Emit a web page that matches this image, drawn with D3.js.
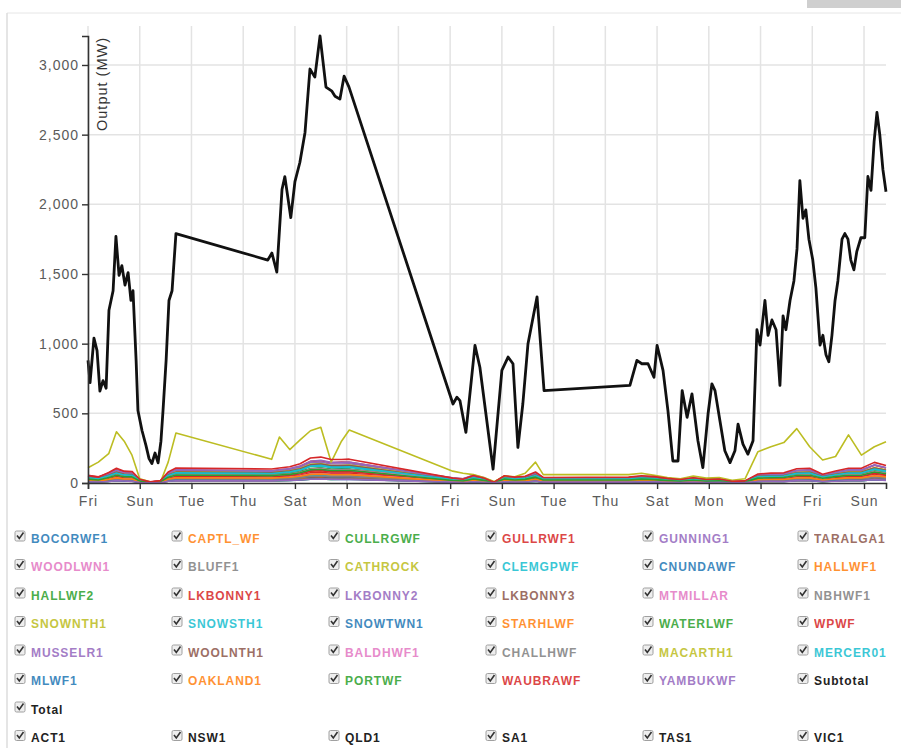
<!DOCTYPE html>
<html><head><meta charset="utf-8">
<script src="https://cdn.jsdelivr.net/npm/d3@7"></script>
<style>
body{margin:0;background:#fff;}
svg text{font-family:"Liberation Sans",Arial,Helvetica,sans-serif;}
</style></head><body>
<svg id="c" width="901" height="748"></svg>
<script>
// ---------- data ----------
const startDate = Date.UTC(2013, 2, 1); // a Friday
const DAY = 864e5;

const totalDays = [0,0.08,0.23,0.35,0.46,0.58,0.70,0.81,0.97,1.08,1.20,1.31,1.43,1.55,1.66,1.74,1.86,1.93,2.09,2.24,2.36,2.47,2.59,2.71,2.82,2.90,3.02,3.13,3.25,3.40,
 6.95,7.11,7.30,7.50,7.61,7.84,8.00,8.19,8.39,8.58,8.77,8.97,9.20,9.43,9.55,9.74,9.90,10.09,
 14.11,14.26,14.38,14.61,14.96,15.15,15.66,16.00,16.24,16.43,16.62,16.81,17.01,17.36,17.63,
 20.95,21.22,21.41,21.65,21.88,22.00,22.23,22.42,22.61,22.81,22.97,23.16,23.35,23.58,23.77,23.97,24.12,24.24,24.43,24.62,24.82,25.01,25.13,25.32,25.51,25.71,
 25.86,25.98,26.17,26.29,26.44,26.60,26.75,26.87,26.98,27.14,27.29,27.41,27.52,27.64,27.75,27.87,28.02,28.14,28.30,28.41,28.53,28.64,28.76,28.88,28.99,
 29.15,29.26,29.38,29.49,29.61,29.72,29.88,30.03,30.15,30.27,30.39,30.50,30.61,30.73,30.85];
const totalValues = [880,720,1040,950,660,735,680,1240,1380,1770,1490,1560,1420,1510,1310,1380,880,520,375,270,175,140,215,145,300,520,880,1310,1380,1790,
 1600,1650,1514,2106,2199,1904,2163,2300,2516,2971,2913,3208,2841,2812,2776,2755,2920,2841,
 567,615,591,363,988,831,99,808,904,856,255,567,1000,1336,663,
 700,880,856,856,759,988,808,519,158,158,663,471,640,303,110,495,712,663,447,231,146,231,423,279,207,303,
 1100,990,1310,1060,1170,1100,700,1200,1100,1310,1450,1680,2170,1900,1960,1750,1600,1400,990,1060,920,870,1060,1310,1450,
 1750,1790,1750,1600,1530,1660,1760,1760,2200,2100,2450,2660,2500,2250,2090];

const seriesDays = [0,0.4,0.8,1.1,1.4,1.7,2.0,2.4,2.8,3.1,3.4,
 7.1,7.4,7.8,8.2,8.6,9.0,9.4,9.8,10.1,
 14.1,14.5,14.9,15.3,15.7,16.1,16.5,16.9,17.3,17.6,
 20.9,21.4,21.9,22.4,22.9,23.4,23.9,24.4,24.9,25.4,25.9,26.4,26.9,27.4,27.9,28.4,28.9,29.4,29.9,30.4,30.85];

const BOCORWF1 = [35,25,48,60,52,45,18,5,8,40,66, 55,65,70,80,100,108,96,102,98, 20,18,30,25,4,30,24,28,46,25, 25,30,28,20,15,22,14,18,7,9,38,42,44,58,62,38,50,60,64,85,74];
const CAPTL_WF = [50,40,62,80,70,58,20,6,12,55,85, 72,80,86,100,128,135,120,125,122, 30,22,45,30,5,40,32,38,60,30, 30,40,34,25,18,30,20,22,8,12,48,52,55,75,78,45,62,78,80,108,92];
const CULLRGWF = [10,8,12,17,14,13,4,1,3,12,17, 16,17,19,22,28,29,26,27,27, 6,4,8,6,1,8,7,8,12,6, 7,8,7,5,4,6,4,5,2,3,10,11,12,16,17,10,14,17,17,23,20];
const GULLRWF1 = [55,45,70,95,80,72,25,6,15,68,95, 85,95,100,120,155,160,145,150,148, 35,30,50,35,6,48,38,42,70,36, 38,45,42,30,22,35,22,26,10,14,55,62,64,88,92,55,75,92,92,128,108];
const GUNNING1 = [14,11,18,25,20,19,6,2,4,18,26, 24,26,28,33,43,45,40,41,41, 8,6,13,9,1,12,10,12,19,10, 10,12,11,8,6,9,6,7,3,4,16,17,17,24,25,15,21,25,25,35,30];
const TARALGA1 = [30,25,42,58,48,46,15,4,10,44,60, 56,60,66,78,100,104,95,95,96, 19,15,30,20,3,29,24,27,44,23, 24,29,26,18,14,21,14,16,6,9,36,40,41,57,59,35,48,59,59,82,70];
const WOODLWN1 = [13,11,19,26,21,21,7,2,4,20,27, 25,27,29,35,45,47,42,42,43, 9,7,13,9,1,13,11,12,20,10, 11,13,12,8,6,10,6,7,3,4,16,18,18,25,26,16,22,26,26,37,31];
const BLUFF1 = [18,15,24,30,26,22,8,2,4,20,30, 25,28,32,40,50,52,48,46,47, 14,12,20,15,3,18,14,16,25,14, 16,20,18,12,10,15,10,12,5,6,20,22,22,30,30,18,25,30,30,42,36];
const CATHROCK = [22,18,28,38,30,28,10,3,6,26,38, 32,36,40,48,60,62,58,56,58, 16,12,24,16,3,22,18,20,32,16, 18,22,20,14,10,16,10,12,5,6,26,28,28,38,40,24,32,40,40,55,48];
const CLEMGPWF = [20,16,26,34,28,26,8,2,5,24,34, 30,32,36,42,54,56,50,50,51, 14,10,20,14,2,18,14,16,26,14, 16,18,16,12,8,14,9,10,4,5,22,24,24,32,34,20,28,34,34,46,40];
const CNUNDAWF = [15,12,20,26,22,20,7,2,4,18,27, 24,26,28,34,43,44,40,40,41, 10,8,14,10,2,14,11,12,20,10, 11,13,12,9,6,10,7,8,3,4,16,18,18,25,26,15,21,26,26,36,30];
const HALLWF1 = [30,24,38,52,42,40,13,4,8,38,52, 48,52,56,66,86,90,82,82,83, 22,18,30,20,4,28,22,26,40,22, 24,28,25,18,14,20,13,15,6,8,32,35,36,50,52,31,42,52,52,72,62];
const HALLWF2 = [22,18,28,38,30,30,10,3,6,28,38, 36,39,42,50,65,68,62,62,63, 16,13,22,15,3,21,17,19,30,16, 17,21,18,13,10,15,10,11,4,6,24,26,27,37,39,23,32,39,39,54,46];
const LKBONNY1 = [25,20,32,44,36,34,11,3,7,32,44, 40,44,48,56,73,76,70,70,70, 18,16,28,20,3,24,20,22,34,18, 20,24,21,15,11,17,11,13,5,7,27,30,30,42,44,26,36,44,44,61,52];
const LKBONNY2 = [45,35,58,82,66,64,20,6,13,62,85, 80,86,94,112,145,150,136,136,138, 38,30,58,40,6,50,40,45,70,38, 40,48,44,32,24,36,24,28,10,14,58,64,66,90,94,56,76,94,94,130,110];
const LKBONNY3 = [11,9,15,21,17,17,5,2,4,16,22, 20,22,24,28,36,38,34,34,35, 8,7,12,8,1,11,9,10,16,9, 9,11,10,7,5,8,5,6,2,3,13,14,15,20,21,13,17,21,21,30,25];
const MTMILLAR = [22,18,28,38,30,30,10,3,6,28,38, 35,38,42,50,64,66,60,60,61, 20,16,26,18,3,22,18,20,30,16, 17,20,18,13,10,15,10,11,4,6,24,26,27,37,38,23,31,38,38,53,45];
const NBHWF1 = [40,32,50,70,56,55,18,5,11,52,72, 68,73,80,94,122,127,115,115,117, 28,24,42,28,5,38,30,35,55,30, 32,38,34,24,18,28,18,20,8,11,45,50,50,70,72,44,60,72,72,100,86];
const SNOWNTH1 = [42,34,56,78,62,62,20,6,12,58,80, 74,80,88,104,135,140,126,126,128, 30,24,45,30,5,42,34,38,60,32, 34,40,36,26,20,30,20,22,9,12,50,54,55,76,80,48,65,80,80,110,94];
const SNOWSTH1 = [38,30,50,70,56,55,18,5,11,52,70, 66,70,77,90,118,122,110,110,112, 26,20,38,26,4,36,29,32,52,28, 30,35,32,22,17,26,17,19,8,10,44,48,48,67,70,42,57,70,70,97,82];
const SNOWTWN1 = [30,24,40,54,44,43,14,4,9,40,55, 52,55,60,71,92,96,87,87,88, 20,16,30,20,3,28,23,26,41,22, 23,27,24,17,13,20,13,15,6,8,34,37,38,52,54,33,45,54,54,76,64];
const STARHLWF = [10,8,13,18,14,14,5,1,3,13,18, 17,18,20,24,31,32,29,29,29, 7,5,10,7,1,9,7,8,14,7, 7,9,8,6,4,7,4,5,2,3,11,12,13,17,18,11,15,18,18,25,21];
const WATERLWF = [32,26,44,60,48,48,16,4,10,44,62, 58,62,68,80,103,108,98,98,99, 22,18,32,22,4,30,25,28,46,24, 25,30,27,19,15,22,30,24,7,9,38,41,42,59,61,37,50,61,61,85,72];
const WPWF = [28,22,36,50,40,40,13,4,8,38,51, 48,51,56,66,85,88,80,80,81, 20,16,28,20,3,26,21,24,38,20, 30,36,32,22,12,18,12,14,6,8,31,34,35,48,50,30,41,50,50,70,59];
const MUSSELR1 = [50,40,66,92,74,72,24,7,15,70,95, 88,95,103,121,156,163,148,148,150, 30,24,47,32,5,45,37,42,69,35, 37,45,40,29,22,34,22,25,10,13,57,62,64,89,92,55,76,92,92,129,109];
const WOOLNTH1 = [40,32,55,77,62,60,20,6,13,57,78, 73,78,85,101,130,136,123,123,125, 25,20,39,27,4,38,31,35,57,29, 31,38,34,24,18,28,18,21,8,11,48,52,53,74,77,46,63,77,77,108,91];
const BALDHWF1 = [30,24,41,58,47,46,15,4,10,43,59, 55,59,65,76,99,103,93,93,94, 24,20,34,22,4,30,25,28,45,24, 23,29,25,18,14,21,14,16,6,8,36,39,40,56,58,35,48,58,58,82,69];
const CHALLHWF = [14,11,20,29,23,22,7,2,5,21,29, 27,29,32,37,48,50,46,46,46, 9,7,15,10,2,14,11,13,21,11, 11,14,12,9,7,10,7,8,3,4,18,19,20,28,29,17,23,29,29,40,34];
const MACARTH1 = [110,150,210,368,300,200,30,8,5,150,359, 170,330,240,310,375,400,150,300,380, 85,70,60,40,10,50,45,70,150,60, 60,70,55,40,30,50,35,40,20,30,225,260,290,390,260,165,190,345,200,260,296];
const MERCER01 = [38,30,52,72,58,56,18,5,12,54,73, 68,73,80,94,122,127,115,115,117, 24,18,37,25,4,35,29,33,54,28, 29,35,31,22,17,26,17,20,8,10,45,48,50,69,72,43,59,72,72,101,85];
const MLWF1 = [8,7,12,16,13,13,4,1,3,12,17, 16,17,18,22,28,29,26,26,27, 5,4,8,6,1,8,7,8,12,6, 7,8,7,5,4,6,4,5,2,2,10,11,11,16,17,10,14,17,17,23,20];
const OAKLAND1 = [18,15,26,37,29,29,9,3,6,27,38, 35,38,41,48,62,65,59,59,60, 12,9,19,13,2,18,15,17,27,14, 15,18,16,11,9,13,9,10,4,5,23,25,25,36,37,22,30,37,37,52,44];
const PORTWF = [28,22,40,56,45,44,14,4,9,42,57, 53,57,62,73,95,99,90,90,91, 18,14,29,19,3,28,22,26,42,21, 22,28,24,17,13,20,13,15,6,8,35,38,39,54,56,34,46,56,56,79,66];
const WAUBRAWF = [52,42,75,106,85,83,27,8,17,79,108, 100,108,117,138,179,186,169,169,171, 35,27,54,36,6,52,42,48,79,40, 42,52,46,33,25,38,25,29,12,15,65,71,73,102,106,63,86,106,106,148,125];
const YAMBUKWF = [9,7,11,17,14,12,4,1,2,13,16, 15,18,19,21,27,28,27,25,26, 6,4,9,5,1,9,6,7,13,6, 6,9,8,5,3,7,4,5,1,3,11,12,10,17,16,11,13,18,16,24,19];

const seriesNames = ["BOCORWF1","CAPTL_WF","CULLRGWF","GULLRWF1","GUNNING1","TARALGA1",
 "WOODLWN1","BLUFF1","CATHROCK","CLEMGPWF","CNUNDAWF","HALLWF1",
 "HALLWF2","LKBONNY1","LKBONNY2","LKBONNY3","MTMILLAR","NBHWF1",
 "SNOWNTH1","SNOWSTH1","SNOWTWN1","STARHLWF","WATERLWF","WPWF",
 "MUSSELR1","WOOLNTH1","BALDHWF1","CHALLHWF","MACARTH1","MERCER01",
 "MLWF1","OAKLAND1","PORTWF","WAUBRAWF","YAMBUKWF"];
const seriesValues = [BOCORWF1,CAPTL_WF,CULLRGWF,GULLRWF1,GUNNING1,TARALGA1,
 WOODLWN1,BLUFF1,CATHROCK,CLEMGPWF,CNUNDAWF,HALLWF1,
 HALLWF2,LKBONNY1,LKBONNY2,LKBONNY3,MTMILLAR,NBHWF1,
 SNOWNTH1,SNOWSTH1,SNOWTWN1,STARHLWF,WATERLWF,WPWF,
 MUSSELR1,WOOLNTH1,BALDHWF1,CHALLHWF,MACARTH1,MERCER01,
 MLWF1,OAKLAND1,PORTWF,WAUBRAWF,YAMBUKWF];
const stateNames = ["ACT1","NSW1","QLD1","SA1","TAS1","VIC1"];
const yTicks = [0,500,1000,1500,2000,2500,3000];
const xTickCount = 16; // every second day

// ---------- drawing ----------
const svg = d3.select("#c");
const colors = d3.schemeCategory10;
const endDays = totalDays[totalDays.length-1];
const x = d3.scaleUtc().domain([new Date(startDate), new Date(startDate + endDays*DAY)]).range([88, 886]);
const y = d3.scaleLinear().domain([0, d3.max(totalValues)]).range([483, 36]);
const toDate = d => new Date(startDate + d*DAY);
const xTickVals = d3.range(xTickCount).map(k => toDate(2*k));

// panel frame
svg.append("line").attr("x1",7).attr("x2",901).attr("y1",13).attr("y2",13).attr("stroke","#e6e6e6");
svg.append("line").attr("x1",7).attr("x2",7).attr("y1",13).attr("y2",748).attr("stroke","#dcdcdc").attr("stroke-width",1.5);
svg.append("rect").attr("x",807).attr("y",0).attr("width",94).attr("height",8).attr("fill","#cfcfcf");

// grid
const grid = svg.append("g");
grid.selectAll(".vg").data(xTickVals).join("line")
  .attr("x1",d=>x(d)).attr("x2",d=>x(d)).attr("y1",26).attr("y2",483)
  .attr("stroke","#e3e3e3").attr("stroke-width",1.5);
grid.selectAll(".hg").data(yTicks.slice(1)).join("line")
  .attr("x1",88).attr("x2",886).attr("y1",d=>y(d)).attr("y2",d=>y(d))
  .attr("stroke","#e3e3e3").attr("stroke-width",1.5);

// series
const line = d3.line().x(d=>x(d[0])).y(d=>y(d[1]));
const sg = svg.append("g").attr("fill","none").attr("stroke-width",1.6).attr("stroke-linejoin","round");
seriesValues.forEach((vals,i)=>{
  sg.append("path").datum(vals.map((v,j)=>[toDate(seriesDays[j]),v]))
    .attr("d",line).attr("stroke",colors[i%10]);
});
svg.append("path").datum(totalValues.map((v,j)=>[toDate(totalDays[j]),v]))
  .attr("d",line).attr("fill","none").attr("stroke","#111").attr("stroke-width",2.8).attr("stroke-linejoin","round");

// axes
const xAxis = svg.append("g").attr("transform","translate(0,483)")
  .call(d3.axisBottom(x).tickValues(xTickVals).tickFormat(d3.utcFormat("%a")).tickPadding(7));
const yAxis = svg.append("g").attr("transform","translate(88,0)")
  .call(d3.axisLeft(y).tickValues(yTicks).tickFormat(d3.format(",")));
[xAxis,yAxis].forEach(a=>{
  a.select(".domain").attr("stroke","#333").attr("stroke-width",1.6);
  a.selectAll(".tick line").attr("stroke","#333").attr("stroke-width",1.4);
  a.selectAll("text").attr("fill","#5a5a5a").style("font-size","14px").style("letter-spacing","1px");
});
svg.append("text").attr("transform","translate(107,37) rotate(-90)").attr("text-anchor","end")
  .attr("fill","#333").style("font-size","14.5px").style("letter-spacing","1px").text("Output (MW)");

// legend
const colX = [15,172,329,486,643,798];
const rowY = [538,566.5,595,623.5,652,680.5,709,737.5];
const items = seriesNames.map((n,i)=>({name:n,color:colors[i%10]}));
items.push({name:"Subtotal",color:"#222",plain:true});
const entries = items.map((it,i)=>({...it,col:i%6,row:Math.floor(i/6)}));
entries.push({name:"Total",color:"#222",plain:true,col:0,row:6});
stateNames.forEach((n,i)=>entries.push({name:n,color:"#222",plain:true,col:i,row:7}));
const lg = svg.append("g");
entries.forEach(e=>{
  const g = lg.append("g").attr("transform",`translate(${colX[e.col]},${rowY[e.row]})`);
  g.append("rect").attr("x",0).attr("y",-7).attr("width",10).attr("height",10).attr("rx",1.5)
    .attr("fill","#eeeeee").attr("stroke","#a0a0a0");
  g.append("path").attr("d","M2,-2.5 L4.3,0.5 L8.5,-5.5").attr("fill","none").attr("stroke","#333").attr("stroke-width",1.6);
  g.append("text").attr("x",16).attr("y",4.5).attr("fill",e.color)
    .style("font-size","12px").style("font-weight","bold").style("letter-spacing","0.9px")
    .attr("opacity",e.plain?1:0.85).text(e.name);
});
</script>
</body></html>
